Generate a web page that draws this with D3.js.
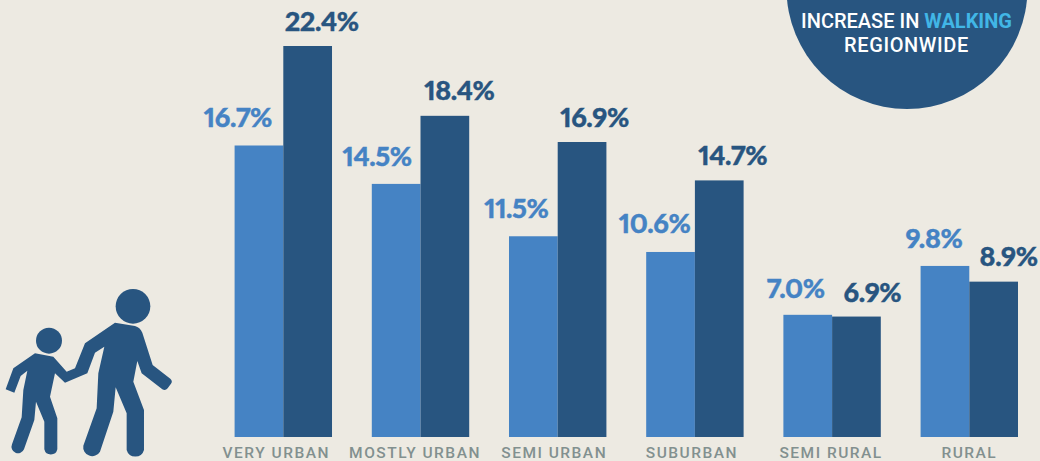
<!DOCTYPE html>
<html>
<head>
    <meta charset="utf-8">
    <title>Increase in walking by area type</title>
    <script src="https://d3js.org/d3.v7.min.js"></script>
    <style>
        html, body { margin: 0; padding: 0; background: #edeae2; overflow: hidden; }
        svg { display: block; }
    </style>
</head>
<body>
    <div id="chart"></div>
    <script>

        var categories = ["VERY URBAN", "MOSTLY URBAN", "SEMI URBAN", "SUBURBAN", "SEMI RURAL", "RURAL"];
        var seriesNames = ["light", "dark"];
        var lightValues = [16.7, 14.5, 11.5, 10.6, 7.0, 9.8];
        var darkValues = [22.4, 18.4, 16.9, 14.7, 6.9, 8.9];

        // hand placed label nudges, the original labels are not centred on the bars
        var lightNudge = [[-21, -18], [-19, -18], [-17, -18], [-16, -19], [-12, -17], [-11, -18]];
        var darkNudge = [[14, -15], [14.5, -16], [12.5, -15], [13.5, -15], [16, -15], [15, -16]];
        var tickNudge = [-7, -5.5, -3.5, -3, -1, 0];

        var width = 1040, height = 461;
        var baseline = 437;
        var light = "#4583c4", dark = "#285580";

        var svg = d3.select("#chart")
            .append("svg")
            .attr("width", width)
            .attr("height", height);

        svg.append("rect")
            .attr("width", width)
            .attr("height", height)
            .attr("fill", "#edeae2");

        var x = d3.scaleBand()
            .domain(categories)
            .range([234.6, 1018])
            .paddingInner(0.29)
            .paddingOuter(0);

        var x1 = d3.scaleBand()
            .domain(seriesNames)
            .range([0, x.bandwidth()]);

        var y = d3.scaleLinear()
            .domain([0, 22.4])
            .range([baseline, 46]);

        // bars
        var groups = svg.selectAll(".group")
            .data(categories)
            .enter()
            .append("g")
            .attr("class", "group")
            .attr("transform", function(d) { return "translate(" + x(d) + ",0)"; });

        groups.append("rect")
            .attr("x", x1("light"))
            .attr("y", function(d, i) { return y(lightValues[i]); })
            .attr("width", x1.bandwidth())
            .attr("height", function(d, i) { return baseline - y(lightValues[i]); })
            .attr("fill", light);

        groups.append("rect")
            .attr("x", x1("dark"))
            .attr("y", function(d, i) { return y(darkValues[i]); })
            .attr("width", x1.bandwidth())
            .attr("height", function(d, i) { return baseline - y(darkValues[i]); })
            .attr("fill", dark);

        // value labels
        function styleValue(sel, color) {
            sel.attr("text-anchor", "middle")
                .style("font-family", "Lato, sans-serif")
                .style("font-weight", 900)
                .style("font-size", "27px")
                .style("font-variant-numeric", "proportional-nums")
                .style("letter-spacing", "-0.4px")
                .attr("fill", color)
                .attr("stroke", color)
                .attr("stroke-width", 0.4);
        }

        groups.append("text")
            .attr("x", function(d, i) { return x1("light") + x1.bandwidth() / 2 + lightNudge[i][0]; })
            .attr("y", function(d, i) { return y(lightValues[i]) + lightNudge[i][1]; })
            .call(styleValue, light)
            .text(function(d, i) { return lightValues[i].toFixed(1) + "%"; });

        groups.append("text")
            .attr("x", function(d, i) { return x1("dark") + x1.bandwidth() / 2 + darkNudge[i][0]; })
            .attr("y", function(d, i) { return y(darkValues[i]) + darkNudge[i][1]; })
            .call(styleValue, dark)
            .text(function(d, i) { return darkValues[i].toFixed(1) + "%"; });

        // category axis
        var xAxis = d3.axisBottom(x).tickSize(0).tickPadding(0);

        var axisG = svg.append("g")
            .attr("transform", "translate(0," + baseline + ")")
            .call(xAxis);

        axisG.select(".domain").remove();

        axisG.selectAll("text")
            .attr("dx", function(d, i) { return tickNudge[i]; })
            .attr("y", 21)
            .attr("dy", 0)
            .style("font-family", "Roboto, sans-serif")
            .style("font-weight", 500)
            .style("font-size", "15.5px")
            .style("letter-spacing", "1.5px")
            .attr("fill", "#82908f");

        // callout circle
        svg.append("circle")
            .attr("cx", 907)
            .attr("cy", -11.5)
            .attr("r", 120.5)
            .attr("fill", dark);

        var calloutFont = "Roboto, sans-serif";

        var line1 = svg.append("text")
            .attr("x", 906.5)
            .attr("y", 28)
            .attr("text-anchor", "middle")
            .style("font-family", calloutFont)
            .style("font-weight", 500)
            .style("font-size", "20px")
            .attr("fill", "#ffffff");

        line1.append("tspan").text("INCREASE IN ");
        line1.append("tspan").attr("fill", "#41b6e6").style("font-weight", 700).text("WALKING");

        svg.append("text")
            .attr("x", 906.5)
            .attr("y", 52)
            .attr("text-anchor", "middle")
            .style("font-family", calloutFont)
            .style("font-weight", 500)
            .style("font-size", "20px")
            .style("letter-spacing", "0.6px")
            .attr("fill", "#ffffff")
            .text("REGIONWIDE");

        // adult and child icon, traced at 3x
        var icon = svg.append("g")
            .attr("transform", "translate(0,280) scale(0.3333)")
            .attr("fill", dark);

        icon.append("circle").attr("cx", 399).attr("cy", 79).attr("r", 52);
        icon.append("circle").attr("cx", 147).attr("cy", 182).attr("r", 39);

        icon.append("path")
            .attr("d", "M345,128 L405,138 Q420,142 427,158 L458,255 L511,296 Q519,303 513,311 L503,325 Q496,334 487,328 L425,280 L412,243 L400,305 L432,390 L432,510 A27,27 0 0 1 380,510 L380,400 L347,322 L340,395 L300,515 A27,27 0 0 1 250,497 L290,385 L295,280 L313,200 L285,218 L262,280 L195,308 L165,280 L150,350 L172,415 L172,508 A20,20 0 0 1 133,508 L133,425 L108,365 L103,420 L72,508 A19,19 0 0 1 36,493 L65,412 L70,330 L82,272 L62,288 L43,338 L17,328 L40,265 L105,220 L160,230 L200,275 L225,265 L255,190 Z");

    </script>
</body>
</html>
